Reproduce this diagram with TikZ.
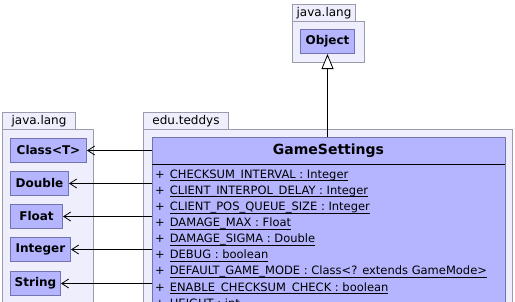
\documentclass[tikz,border=0pt]{standalone}
\usepackage{fontspec}
\setmainfont{DejaVu Sans}
\usetikzlibrary{arrows.meta}

\definecolor{pkgfill}{RGB}{238,238,252}
\definecolor{pkgline}{RGB}{155,155,175}
\definecolor{clsfill}{RGB}{180,180,255}
\definecolor{clsline}{RGB}{115,115,175}

% atributo estatico: subrayado algo separado del texto
\newcommand{\staticattr}[1]{\setbox0\hbox{#1}\rlap{\rule[-3pt]{\wd0}{0.7pt}}\box0}

\begin{document}
\begin{tikzpicture}[
  x=1pt, y=-1pt,
  pkg/.style={draw=pkgline, fill=pkgfill, line width=1pt, anchor=north west, inner sep=0pt},
  pkgtab/.style={pkg, font=\fontsize{12}{14}\selectfont, minimum height=17pt},
  cls/.style={draw=clsline, fill=clsfill, line width=1pt, anchor=north west, inner sep=0pt,
    minimum height=24pt, font=\bfseries\fontsize{12}{14}\selectfont},
  attr/.style={anchor=base west, inner sep=0pt, font=\fontsize{11.5}{13}\selectfont},
  uses/.style={-{Straight Barb[length=7pt, width=9pt]}, line width=0.8pt},
  extends/.style={-{Triangle[open, fill=white, length=15pt, width=12pt]}, line width=0.8pt}
]
  \useasboundingbox (0,0) rectangle (515,301);
  \clip (0,0) rectangle (515,301);

  % ==========================================
  % 1. PAQUETES (al fondo)
  % ==========================================

  % java.lang (arriba)
  \node[pkg, minimum width=72pt, minimum height=41pt] (langtop) at (292,21) {};
  \node[pkgtab, minimum width=63pt] (langtoptab) at (292,4) {java.lang};

  % java.lang (izquierda)
  \node[pkg, minimum width=91pt, minimum height=185pt] (langleft) at (2,129) {};
  \node[pkgtab, minimum width=73pt] (langlefttab) at (2,112) {java.lang};

  % edu.teddys
  \node[pkg, minimum width=369pt, minimum height=185pt] (teddys) at (143,129) {};
  \node[pkgtab, minimum width=85pt] (teddystab) at (143,112) {edu.teddys};

  % ==========================================
  % 2. CLASES
  % ==========================================
  \node[cls, minimum width=54pt] (object) at (300,29) {Object};

  \node[cls, minimum width=76pt] (class) at (10,138) {Class<T>};
  \node[cls, minimum width=58pt] (double) at (10,171) {Double};
  \node[cls, minimum width=52pt] (float) at (10,204) {Float};
  \node[cls, minimum width=60pt] (integer) at (10,237) {Integer};
  \node[cls, minimum width=50pt] (string) at (10,271) {String};

  % GameSettings: caja, titulo y atributos
  \node[cls, minimum width=353pt, minimum height=180pt] (gs) at (152,137) {};
  \node[anchor=center, font=\bfseries\fontsize{14}{16}\selectfont] (gstitle) at (328.5,150.5) {GameSettings};
  \draw[line width=1pt] (152,164) -- (505,164);

  \node[attr] (a1) at (155,178) {+\hspace{5pt}\staticattr{CHECKSUM\_INTERVAL : Integer}};
  \node[attr] (a2) at (155,194.1) {+\hspace{5pt}\staticattr{CLIENT\_INTERPOL\_DELAY : Integer}};
  \node[attr] (a3) at (155,210.3) {+\hspace{5pt}\staticattr{CLIENT\_POS\_QUEUE\_SIZE : Integer}};
  \node[attr] (a4) at (155,226.4) {+\hspace{5pt}\staticattr{DAMAGE\_MAX : Float}};
  \node[attr] (a5) at (155,242.6) {+\hspace{5pt}\staticattr{DAMAGE\_SIGMA : Double}};
  \node[attr] (a6) at (155,258.7) {+\hspace{5pt}\staticattr{DEBUG : boolean}};
  \node[attr] (a7) at (155,274.8) {+\hspace{5pt}\staticattr{DEFAULT\_GAME\_MODE : Class<? extends GameMode>}};
  \node[attr] (a8) at (155,291) {+\hspace{5pt}\staticattr{ENABLE\_CHECKSUM\_CHECK : boolean}};
  \node[attr] (a9) at (155,307.1) {+\hspace{5pt}\staticattr{HEIGHT : int}};

  % ==========================================
  % 3. RELACIONES
  % ==========================================
  \draw[extends] (object.south |- gs.north) -- (object.south);

  \draw[uses] (gs.west |- class.east) -- (class.east);
  \draw[uses] (gs.west |- double.east) -- (double.east);
  \draw[uses] (gs.west |- float.east) -- (float.east);
  \draw[uses] (gs.west |- integer.east) -- (integer.east);
  \draw[uses] (gs.west |- string.east) -- (string.east);

\end{tikzpicture}
\end{document}
